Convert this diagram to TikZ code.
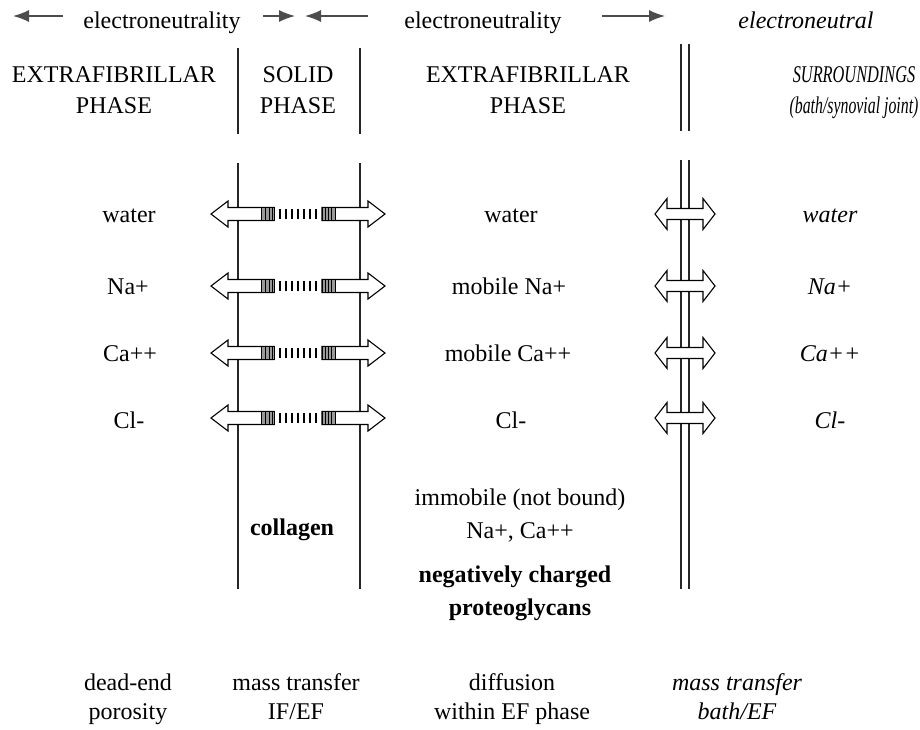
\documentclass[tikz,border=0pt]{standalone}
\usepackage{fontspec}
\setmainfont{Liberation Serif}
\usetikzlibrary{arrows.meta}
\tikzset{
    lbl/.style={
    anchor=base,inner sep=0pt,font=\fontsize{24}{29}\selectfont
    },
    ilbl/.style={
    lbl,font=\fontsize{24}{29}\selectfont\itshape
    },
    blbl/.style={
    lbl,font=\fontsize{24}{29}\selectfont\bfseries
    },
    wall/.style={
    draw=black!85,line width=1.4pt
    },
    neutral/.style={
    draw=black!70,line width=1.4pt,-{Latex[length=16pt,width=12pt]}
    },
    hollow/.style={
    draw=black,line width=1.1pt,fill=white,line join=miter
    },
    plug/.style={
    draw=black,line width=0.7pt,fill=black!40
    },
    pore/.style={
    draw=black,line width=1.3pt
    },
    poreflux/.pic={
      \draw[hollow] (-24,-6.5) -- (-70,-6.5) -- (-70,-13) -- (-87,0) -- (-70,13) -- (-70,6.5) -- (-24,6.5) -- cycle;
      \draw[hollow] (24,-6.5) -- (70,-6.5) -- (70,-13) -- (87,0) -- (70,13) -- (70,6.5) -- (24,6.5) -- cycle;
      \draw[plug] (-37,-6.5) rectangle (-24,6.5);
      \draw[plug] (24,-6.5) rectangle (37,6.5);
      \foreach \x in {-33,-29,-26,27,30,33}
        \draw[line width=0.6pt] (\x,-6.5) -- (\x,6.5);
      \foreach \x in {-18,-12,...,18}
        \draw[pore] (\x,-5) -- (\x,5);
    },
    bathflux/.pic={
      \draw[hollow] (-30,0) -- (-18,-15.5) -- (-18,-5.5) -- (18,-5.5) -- (18,-15.5) -- (30,0)
        -- (18,15.5) -- (18,5.5) -- (-18,5.5) -- (-18,15.5) -- cycle;
    },
}

\begin{document}
\begin{tikzpicture}[x=1pt,y=-1pt]
   \useasboundingbox (0,0) rectangle (920,729);

   % top row
   \node[lbl] (en1) at (162,28) {electroneutrality};
   \node[lbl] (en2) at (483,28) {electroneutrality};
   \node[ilbl] (en3) at (806,28) {electroneutral};
   \coordinate (a1s) at (63,16);  \coordinate (a1e) at (13,16);
   \coordinate (a2s) at (263,16); \coordinate (a2e) at (295,16);
   \coordinate (a3s) at (368,16); \coordinate (a3e) at (305,16);
   \coordinate (a4s) at (602,16); \coordinate (a4e) at (665,16);
   \draw[neutral] (a1s) -- (a1e);
   \draw[neutral] (a2s) -- (a2e);
   \draw[neutral] (a3s) -- (a3e);
   \draw[neutral] (a4s) -- (a4e);

   % phase headers
   \node[lbl] (efl1) at (114,82) {EXTRAFIBRILLAR};
   \node[lbl] (efl2) at (114,113) {PHASE};
   \node[lbl] (sp1) at (298,82) {SOLID};
   \node[lbl] (sp2) at (298,113) {PHASE};
   \node[lbl] (efm1) at (528,82) {EXTRAFIBRILLAR};
   \node[lbl] (efm2) at (528,113) {PHASE};
   \node[ilbl] (sur1) at (854,82) {\scalebox{0.68}[1]{SURROUNDINGS}};
   \node[ilbl] (sur2) at (854,113) {\scalebox{0.66}[1]{(bath/synovial joint)}};

   % boundaries
   \coordinate (wla) at (238,48);  \coordinate (wlb) at (238,134);
   \coordinate (wlc) at (238,163); \coordinate (wld) at (238,589);
   \coordinate (wra) at (360,48);  \coordinate (wrb) at (360,134);
   \coordinate (wrc) at (360,163); \coordinate (wrd) at (360,589);
   \coordinate (b1a) at (681,44);  \coordinate (b1b) at (681,131);
   \coordinate (b1c) at (681,160); \coordinate (b1d) at (681,589);
   \coordinate (b2a) at (689,44);  \coordinate (b2b) at (689,131);
   \coordinate (b2c) at (689,160); \coordinate (b2d) at (689,589);
   \draw[wall] (wla) -- (wlb) (wlc) -- (wld);
   \draw[wall] (wra) -- (wrb) (wrc) -- (wrd);
   \draw[wall] (b1a) -- (b1b) (b1c) -- (b1d);
   \draw[wall] (b2a) -- (b2b) (b2c) -- (b2d);

   % species
   \node[lbl] (wL) at (129,222) {water};
   \node[lbl] (naL) at (128,294) {Na+};
   \node[lbl] (caL) at (130,361) {Ca++};
   \node[lbl] (clL) at (129,428) {Cl-};
   \node[lbl] (wM) at (511,222) {water};
   \node[lbl] (naM) at (509,294) {mobile Na+};
   \node[lbl] (caM) at (508,361) {mobile Ca++};
   \node[lbl] (clM) at (511,428) {Cl-};
   \node[ilbl] (wR) at (830,222) {water};
   \node[ilbl] (naR) at (830,294) {Na+};
   \node[ilbl] (caR) at (830,361) {Ca++};
   \node[ilbl] (clR) at (830,428) {Cl-};

   \pic (fw) at (298,214) {poreflux};
   \pic (fna) at (298,286) {poreflux};
   \pic (fca) at (298,353) {poreflux};
   \pic (fcl) at (298,418) {poreflux};
   \pic (bw) at (685,214) {bathflux};
   \pic (bna) at (685,286) {bathflux};
   \pic (bca) at (685,353) {bathflux};
   \pic (bcl) at (685,418) {bathflux};

   % fixed constituents
   \node[blbl] (col) at (292,535) {collagen};
   \node[lbl] (imm1) at (520,505) {immobile (not bound)};
   \node[lbl] (imm2) at (520,538) {Na+, Ca++};
   \node[blbl] (pg1) at (515,582) {negatively charged};
   \node[blbl] (pg2) at (520,615) {proteoglycans};

   % transport modes
   \node[lbl] (de1) at (128,690) {dead-end};
   \node[lbl] (de2) at (128,719) {porosity};
   \node[lbl] (mt1) at (296,690) {mass transfer};
   \node[lbl] (mt2) at (296,719) {IF/EF};
   \node[lbl] (df1) at (512,690) {diffusion};
   \node[lbl] (df2) at (512,719) {within EF phase};
   \node[ilbl] (mb1) at (737,690) {mass transfer};
   \node[ilbl] (mb2) at (737,719) {bath/EF};
\end{tikzpicture}
\end{document}
